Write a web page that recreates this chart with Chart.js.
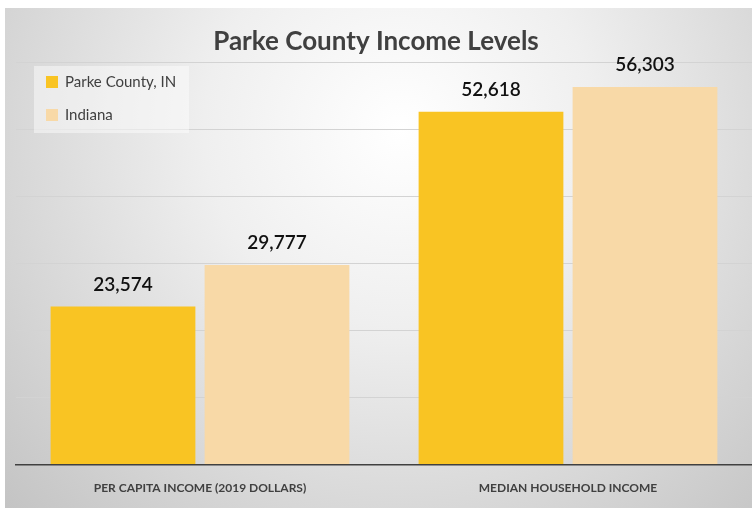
<!DOCTYPE html>
<html>
<head>
<meta charset="utf-8">
<title>Parke County Income Levels</title>
<script src="https://cdn.jsdelivr.net/npm/chart.js@4/dist/chart.umd.min.js"></script>
<style>
    html, body { margin: 0; padding: 0; background: #fff; }
    #wrap { width: 752px; height: 508px; position: relative; }
</style>
</head>
<body>
<div id="wrap"><canvas id="income-chart"></canvas></div>
<script>
// income figures, in dollars
const categories = ['PER CAPITA INCOME (2019 DOLLARS)', 'MEDIAN HOUSEHOLD INCOME'];
const parkeValues = [23574, 52618];
const indianaValues = [29777, 56303];
const seriesNames = ['Parke County, IN', 'Indiana'];

const FONT = 'Lato, "Open Sans", sans-serif';
const TEXT = '#404040';

// gray panel with a soft light spot behind the title
const panelBackground = {
    id: 'panelBackground',
    beforeDraw(chart) {
        const ctx = chart.ctx;
        ctx.save();
        ctx.fillStyle = '#ffffff';
        ctx.fillRect(0, 0, chart.width, chart.height);
        const g = ctx.createRadialGradient(400, 130, 0, 400, 130, 560);
        g.addColorStop(0, '#ffffff');
        g.addColorStop(0.35, '#efefef');
        g.addColorStop(1, '#c2c2c2');
        ctx.fillStyle = g;
        ctx.fillRect(5, 8, chart.width - 5, chart.height - 8);
        ctx.restore();
    }
};

// boxed legend in the top left of the plot
const boxLegend = {
    id: 'boxLegend',
    afterDatasetsDraw(chart) {
        const ctx = chart.ctx;
        ctx.save();
        ctx.fillStyle = 'rgba(255,255,255,0.45)';
        ctx.fillRect(34, 66, 155, 67);
        ctx.font = '15px ' + FONT;
        ctx.textBaseline = 'middle';
        chart.data.datasets.forEach((ds, i) => {
            const y = 82 + i * 33;
            ctx.fillStyle = ds.backgroundColor;
            ctx.fillRect(46, y - 6, 12, 12);
            ctx.fillStyle = TEXT;
            ctx.fillText(ds.label, 65, y);
        });
        ctx.restore();
    }
};

// value above every bar
const barValues = {
    id: 'barValues',
    afterDatasetsDraw(chart) {
        const ctx = chart.ctx;
        ctx.save();
        ctx.font = '600 19px ' + FONT;
        ctx.fillStyle = '#111';
        ctx.textAlign = 'center';
        ctx.textBaseline = 'middle';
        chart.data.datasets.forEach((ds, i) => {
            chart.getDatasetMeta(i).data.forEach((bar, j) => {
                ctx.fillText(ds.data[j].toLocaleString('en-US'), bar.x, bar.y - 22);
            });
        });
        ctx.restore();
    }
};

new Chart(document.getElementById('income-chart'), {
    type: 'bar',
    data: {
        labels: categories,
        datasets: [
            { label: seriesNames[0], data: parkeValues, backgroundColor: '#f9c423' },
            { label: seriesNames[1], data: indianaValues, backgroundColor: '#f8d9a7' }
        ]
    },
    options: {
        responsive: true,
        maintainAspectRatio: false,
        animation: false,
        datasets: { bar: { categoryPercentage: 0.837, barPercentage: 0.94 } },
        layout: { padding: { top: 8, left: 0, right: 0, bottom: -3 } },
        plugins: {
            legend: { display: false },
            tooltip: { enabled: false },
            title: {
                display: true,
                text: 'Parke County Income Levels',
                color: TEXT,
                font: { family: FONT, size: 26, weight: 'bold' },
                padding: { top: 18, bottom: 5 }
            }
        },
        scales: {
            x: {
                grid: { display: false, drawTicks: false },
                border: { color: TEXT, width: 1.5 },
                ticks: { color: TEXT, padding: 16, font: { family: FONT, size: 12, weight: 'bold' } }
            },
            y: {
                min: 0,
                max: 60000,
                afterFit(scale) { scale.width = 16; },
                ticks: { display: false, stepSize: 10000 },
                grid: { color: '#d3d3d3', drawTicks: false },
                border: { display: false }
            }
        }
    },
    plugins: [panelBackground, boxLegend, barValues]
});
</script>
</body>
</html>
